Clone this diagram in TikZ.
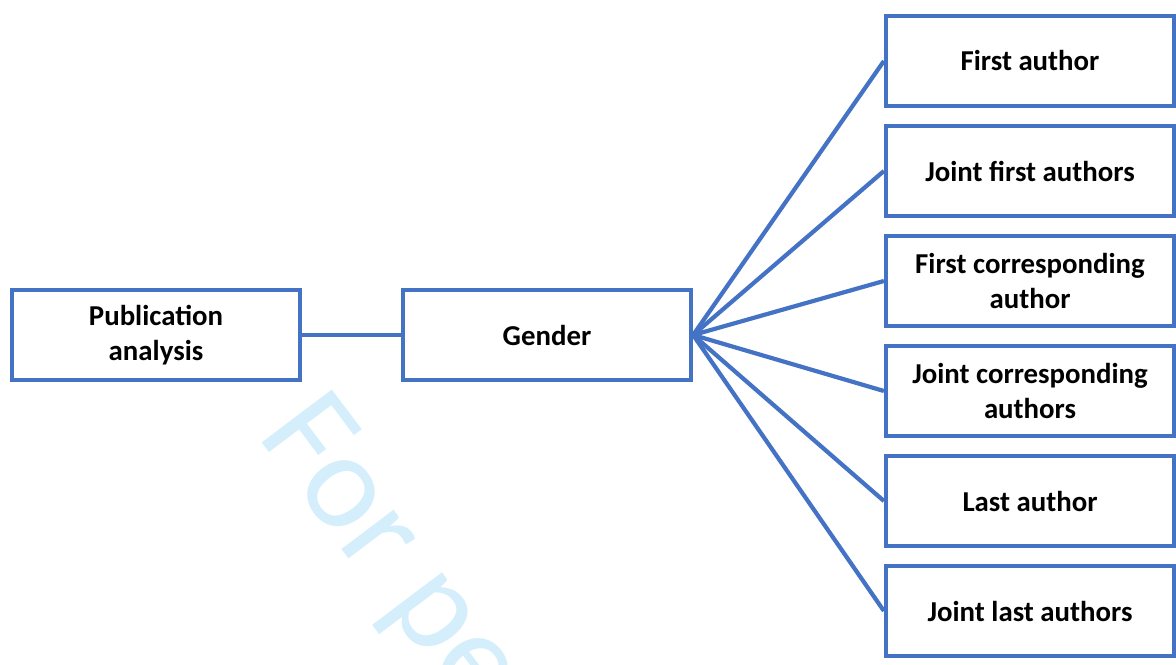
\documentclass[tikz,border=0pt]{standalone}
\usepackage{fontspec}
\setmainfont{Carlito}
\usetikzlibrary{positioning}
\definecolor{boxblue}{HTML}{4472C4}
\definecolor{wmblue}{HTML}{D4EFFB}
\tikzset{
  box/.style={draw=boxblue, line width=1.2pt, fill=white, minimum width=2.88cm, minimum height=0.90cm, inner sep=0pt, align=center, font=\fontsize{8.2}{10}\selectfont\bfseries},
  link/.style={boxblue, line width=1.2pt}
}
\begin{document}
\begin{tikzpicture}
\useasboundingbox (0,0) rectangle (11.76,6.64);

%watermark
\begin{scope}
\clip (0,0) rectangle (11.76,6.64);
\node[rotate=-53, anchor=base west, inner sep=0pt, text=wmblue, font=\fontsize{39}{39}\selectfont] (wm) at (2.56,2.29) {For pe};
\end{scope}

\node[box] (pub) at (1.56,3.29) {Publication\\analysis};
\node[box] (gender) at (5.47,3.29) {Gender};

\node[box] (fa) at (10.30,6.03) {First author};
\node[box] (jfa) at (10.30,4.93) {Joint first authors};
\node[box] (fca) at (10.30,3.83) {First corresponding\\author};
\node[box] (jca) at (10.30,2.73) {Joint corresponding\\authors};
\node[box] (la) at (10.30,1.63) {Last author};
\node[box] (jla) at (10.30,0.53) {Joint last authors};

\draw[link] (pub) -- (gender);
\draw[link] (gender.east) -- (fa.west);
\draw[link] (gender.east) -- (jfa.west);
\draw[link] (gender.east) -- (fca.west);
\draw[link] (gender.east) -- (jca.west);
\draw[link] (gender.east) -- (la.west);
\draw[link] (gender.east) -- (jla.west);
\end{tikzpicture}
\end{document}
